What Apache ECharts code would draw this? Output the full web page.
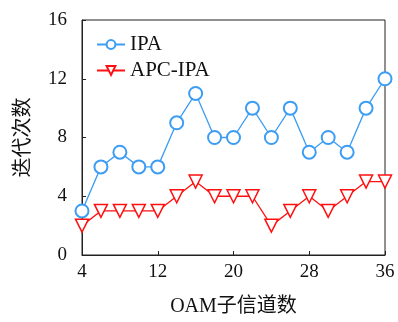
<!DOCTYPE html>
<html>
<head>
<meta charset="utf-8">
<script src="https://cdn.jsdelivr.net/npm/echarts@6/dist/echarts.min.js"></script>
<style>
  html, body { margin: 0; padding: 0; background: #fff; }
  #chart { width: 398px; height: 322px; }
</style>
</head>
<body>
<div id="chart"></div>
<script>
// Number of OAM sub-channels
const subChannels = [4, 6, 8, 10, 12, 14, 16, 18, 20, 22, 24, 26, 28, 30, 32, 34, 36];
// Iteration counts per method
const ipaIters = [3, 6, 7, 6, 6, 9, 11, 8, 8, 10, 8, 10, 7, 8, 7, 10, 12];
const apcIpaIters = [2, 3, 3, 3, 3, 4, 5, 4, 4, 4, 2, 3, 4, 3, 4, 5, 5];
const xTicks = [4, 12, 20, 28, 36];
const yTicks = [0, 4, 8, 12, 16];

const serif = '"Liberation Serif", "DejaVu Serif", "Noto Sans CJK SC", serif';
const chart = echarts.init(document.getElementById('chart'));

const pair = (xs, ys) => xs.map((x, i) => [x, ys[i]]);

chart.setOption({
  animation: false,
  grid: { left: 82, right: 13, top: 20, bottom: 66, show: true, borderColor: '#222', borderWidth: 1 },
  legend: {
    left: 91, top: 29, orient: 'vertical', itemGap: 5,
    itemWidth: 28, itemHeight: 11,
    textStyle: { fontFamily: serif, fontSize: 21, color: '#111' },
    data: ['IPA', 'APC-IPA']
  },
  xAxis: {
    type: 'value', min: 4, max: 36,
    name: 'OAM子信道数', nameLocation: 'middle', nameGap: 42,
    nameTextStyle: { fontFamily: serif, fontSize: 20, color: '#111' },
    axisLine: { lineStyle: { color: '#222' } },
    axisTick: { inside: true, length: 4, customValues: xTicks, lineStyle: { color: '#222' } },
    axisLabel: { customValues: xTicks, fontFamily: serif, fontSize: 19, color: '#111', margin: 8 },
    splitLine: { show: false }
  },
  yAxis: {
    type: 'value', min: 0, max: 16, interval: 4,
    name: '迭代次数', nameLocation: 'middle', nameGap: 48, nameRotate: 90,
    nameTextStyle: { fontFamily: serif, fontSize: 20, color: '#111' },
    axisLine: { lineStyle: { color: '#222' } },
    axisTick: { inside: true, length: 4, customValues: yTicks, lineStyle: { color: '#222' } },
    axisLabel: { customValues: yTicks, fontFamily: serif, fontSize: 19, color: '#111', margin: 15 },
    splitLine: { show: false }
  },
  series: [
    {
      name: 'IPA', type: 'line', data: pair(subChannels, ipaIters),
      symbol: 'emptyCircle', symbolSize: 13,
      lineStyle: { color: '#3d9df3', width: 1.3 },
      itemStyle: { color: '#3d9df3', borderWidth: 1.5 }
    },
    {
      name: 'APC-IPA', type: 'line', data: pair(subChannels, apcIpaIters),
      symbol: 'triangle', symbolRotate: 180, symbolSize: 13,
      lineStyle: { color: '#ff1010', width: 1.3 },
      itemStyle: { color: '#fff', borderColor: '#ff1010', borderWidth: 1.5 }
    }
  ]
});
</script>
</body>
</html>
